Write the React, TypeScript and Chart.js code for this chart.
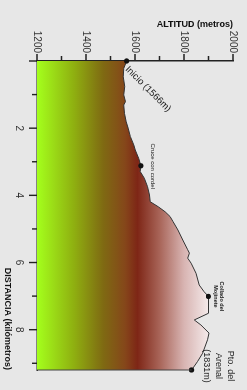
import React, { useEffect, useRef } from "react";
import { Chart, registerables } from "chart.js";

Chart.register(...registerables);

// Perfil de la ruta (distancia en km, altitud en m)
const distanciaKm = [
  0, 0.22, 0.47, 0.76, 1.01, 1.21, 1.31, 1.56, 1.81, 2.0,
  2.25, 2.5, 2.65, 2.9, 3.12, 3.29, 3.49, 3.74, 3.99, 4.19,
  4.34, 4.49, 4.63, 4.78, 5.03, 5.33, 5.62, 5.72, 5.87, 6.02,
  6.32, 6.67, 6.87, 7.01, 7.51, 7.71, 7.86, 8.1, 8.3, 8.7,
  8.95, 9.2,
];
const altitudM = [
  1566, 1554, 1552, 1558, 1554, 1561, 1554, 1557, 1564, 1572,
  1581, 1595, 1601, 1615, 1624, 1621, 1638, 1651, 1659, 1662,
  1695, 1723, 1743, 1755, 1775, 1795, 1815, 1822, 1815, 1829,
  1849, 1862, 1882, 1900, 1900, 1842, 1869, 1902, 1896, 1876,
  1855, 1831,
];

// Hitos señalados
const hitosIdx = [0, 14, 33, 41];
const hitosTexto = [
  ["Inicio (1566m)"],
  ["Cruce con cordel"],
  ["Collado del", "Mojinete"],
  ["Pto. del", "Arenal", "(1831m)"],
];

// Ejes
const altMin = 1200;
const altMax = 2000;
const distMin = 0;
const distMax = 9.2;
const tituloAltitud = "ALTITUD (metros)";
const tituloDistancia = "DISTANCIA (kilómetros)";

// Degradado del relleno (por altitud)
const gradAlt = [1200, 1350, 1470, 1560, 1610, 1700, 1800, 1900];
const gradColor = ["#a4ff1c", "#8fb010", "#7f6a12", "#85461a", "#7e2616", "#a86458", "#d8b4b2", "#f4eaea"];

const BG = "#e7e7e7";
const AXIS = "#222222";
const FONT = "'Liberation Sans', Arial, sans-serif";

const decorPlugin = {
  id: "decor",
  afterDraw(chart: any) {
    const { ctx, chartArea: ca } = chart;
    const xs = chart.scales.x;
    const ys = chart.scales.y;
    ctx.save();
    // marcas de los ejes
    ctx.strokeStyle = AXIS;
    ctx.lineWidth = 1.4;
    ctx.beginPath();
    xs.ticks.forEach((t: any) => {
      const u = xs.getPixelForValue(t.value);
      const len = t.value % 2 === 0 ? 8 : 5;
      ctx.moveTo(u, ca.bottom);
      ctx.lineTo(u, ca.bottom + len);
    });
    ys.ticks.forEach((t: any) => {
      const v = ys.getPixelForValue(t.value);
      const len = t.value % 200 === 0 ? 7 : 5;
      ctx.moveTo(ca.left, v);
      ctx.lineTo(ca.left - len, v);
    });
    ctx.stroke();

    // borde final del relleno
    const last = distanciaKm.length - 1;
    const uEnd = xs.getPixelForValue(distanciaKm[last]);
    ctx.strokeStyle = "#444";
    ctx.lineWidth = 1;
    ctx.beginPath();
    ctx.moveTo(uEnd, ys.getPixelForValue(altMin));
    ctx.lineTo(uEnd, ys.getPixelForValue(altitudM[last]));
    ctx.stroke();

    // textos de hitos
    ctx.fillStyle = "#1a1a1a";
    const px = (i: number) => xs.getPixelForValue(distanciaKm[hitosIdx[i]]);
    const py = (i: number) => ys.getPixelForValue(altitudM[hitosIdx[i]]);

    // Inicio (diagonal)
    ctx.save();
    ctx.translate(px(0), py(0));
    ctx.rotate(-Math.PI / 4);
    ctx.font = `9.5px ${FONT}`;
    ctx.textAlign = "left";
    ctx.textBaseline = "top";
    ctx.fillText(hitosTexto[0][0], 5, 0);
    ctx.restore();

    ctx.textAlign = "center";
    ctx.textBaseline = "middle";
    // Cruce con cordel
    ctx.font = `6px ${FONT}`;
    ctx.fillText(hitosTexto[1][0], px(1) + 0.5, py(1) - 11.7);
    // Collado del Mojinete
    ctx.font = `bold 5.5px ${FONT}`;
    ctx.fillText(hitosTexto[2][0], px(2), py(2) - 13.5);
    ctx.fillText(hitosTexto[2][1], px(2), py(2) - 7.5);
    // Pto. del Arenal
    ctx.font = `9px ${FONT}`;
    hitosTexto[3].forEach((s, k) => {
      ctx.fillText(s, px(3) - 4, py(3) - 38.5 + k * 11.75);
    });
    ctx.restore();
  },
};

export default function App() {
  const ref = useRef<HTMLCanvasElement>(null);

  useEffect(() => {
    const canvas = ref.current;
    if (!canvas) return;
    const data = distanciaKm.map((d, i) => ({ x: d, y: altitudM[i] }));
    const radii = distanciaKm.map((_, i) => (hitosIdx.includes(i) ? 2.6 : 0));

    const chart = new Chart(canvas, {
      type: "line",
      data: {
        datasets: [
          {
            data,
            parsing: false,
            borderColor: "#333333",
            borderWidth: 1,
            tension: 0,
            fill: "start",
            clip: 5,
            pointRadius: radii,
            pointBackgroundColor: "#111",
            pointBorderWidth: 0,
            backgroundColor: (c: any) => {
              const ch = c.chart;
              if (!ch.chartArea) return "transparent";
              const ys = ch.scales.y;
              const y0 = ys.getPixelForValue(gradAlt[0]);
              const y1 = ys.getPixelForValue(gradAlt[gradAlt.length - 1]);
              const g = ch.ctx.createLinearGradient(0, y0, 0, y1);
              gradAlt.forEach((a, k) => {
                g.addColorStop((a - gradAlt[0]) / (gradAlt[gradAlt.length - 1] - gradAlt[0]), gradColor[k]);
              });
              return g;
            },
          } as any,
        ],
      },
      options: {
        responsive: false,
        animation: false,
        devicePixelRatio: 1,
        events: [],
        layout: { padding: { left: 0, top: 11, right: 20, bottom: 0 } },
        plugins: { legend: { display: false }, tooltip: { enabled: false } },
        scales: {
          x: {
            type: "linear",
            position: "bottom",
            min: distMin,
            max: distMax,
            grid: { display: false, drawTicks: false },
            border: { display: true, color: AXIS, width: 1.5 },
            ticks: {
              stepSize: 1,
              includeBounds: false,
              autoSkip: false,
              maxRotation: 0,
              padding: 12,
              color: "#333",
              font: { family: FONT, size: 10 },
              callback: (v: any) => (v > 0 && v % 2 === 0 ? String(v) : ""),
            },
            title: {
              display: true,
              text: tituloDistancia,
              align: "end",
              color: "#111",
              font: { family: FONT, size: 9, weight: "bold" },
              padding: { top: 0, bottom: 1.6 },
            },
            afterFit: (s: any) => {
              s.height = 37;
            },
          },
          y: {
            type: "linear",
            position: "left",
            min: altMin,
            max: altMax,
            grid: { display: false, drawTicks: false },
            border: { display: true, color: AXIS, width: 1.5 },
            ticks: {
              stepSize: 100,
              padding: 8,
              color: "#333",
              font: { family: FONT, size: 10 },
              callback: (v: any) => (v % 200 === 0 ? String(v) : ""),
            },
            title: {
              display: true,
              text: tituloAltitud,
              align: "end",
              color: "#111",
              font: { family: FONT, size: 9, weight: "bold" },
              padding: { top: 19, bottom: 0 },
            },
            afterFit: (s: any) => {
              s.width = 61;
            },
          },
        },
      },
      plugins: [decorPlugin],
    } as any);
    return () => chart.destroy();
  }, []);

  return (
    <div
      style={{
        position: "fixed",
        left: 0,
        top: 0,
        width: 247,
        height: 390,
        background: BG,
        overflow: "hidden",
      }}
    >
      <div
        style={{
          position: "absolute",
          left: 0,
          top: 0,
          width: 390,
          height: 247,
          transformOrigin: "0 0",
          transform: "translateX(247px) rotate(90deg)",
        }}
      >
        <canvas ref={ref} width={390} height={247} style={{ display: "block" }} />
      </div>
    </div>
  );
}
